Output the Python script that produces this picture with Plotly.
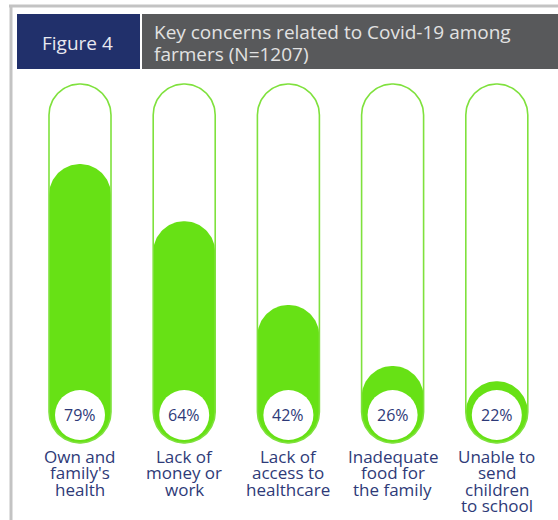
import numpy as np
import plotly.graph_objects as go

# --- data ---------------------------------------------------------------
categories = [
    "Own and<br>family's<br>health",
    "Lack of<br>money or<br>work",
    "Lack of<br>access to<br>healthcare",
    "Inadequate<br>food for<br>the family",
    "Unable to<br>send<br>children<br>to school",
]
percent = [79, 64, 42, 26, 22]
figure_label = "Figure 4"
title_lines = ["Key concerns related to Covid-19 among", "farmers (N=1207)"]

# --- styling --------------------------------------------------------------
W, H = 558, 520
FILL = "#67e115"
OUTLINE = "#7fe13d"
NAVY = "#21306b"
HEAD_GREY = "#58595b"
TEXT = "#2e3a78"
FONT = "Open Sans"

# axis geometry: one category per 104.2 px, one percent point per 3.81 px
PX_X = 104.2
PX_Y = 3.81
X0_PX = 80          # pixel position of first category
Y0_PX = 465         # pixel position of value 0
x_range = [-X0_PX / PX_X, (W - X0_PX) / PX_X]
y_range = [(Y0_PX - H) / PX_Y, Y0_PX / PX_Y]

R_PX = 31                       # tube radius in pixels
RX, RY = R_PX / PX_X, R_PX / PX_Y
BASE = 5.8                      # tube bottom (in axis units)
TOP = 100.0                     # tube top


def capsule(cx, y_lo, y_hi, n=60):
    """Closed outline of a vertical capsule between y_lo and y_hi."""
    t_top = np.linspace(0, np.pi, n)
    t_bot = np.linspace(np.pi, 2 * np.pi, n)
    xs = np.concatenate([cx + RX * np.cos(t_top), cx + RX * np.cos(t_bot)])
    ys = np.concatenate([(y_hi - RY) + RY * np.sin(t_top),
                         (y_lo + RY) + RY * np.sin(t_bot)])
    xs = np.append(xs, xs[0])
    ys = np.append(ys, ys[0])
    return xs, ys


fig = go.Figure()

for i, p in enumerate(percent):
    # filled level
    fx, fy = capsule(i, BASE, p)
    fig.add_trace(go.Scatter(x=fx, y=fy, mode="lines", fill="toself",
                             fillcolor=FILL, line=dict(width=0, color=FILL),
                             hoverinfo="skip", showlegend=False))
    # tube outline
    ox, oy = capsule(i, BASE, TOP)
    fig.add_trace(go.Scatter(x=ox, y=oy, mode="lines",
                             line=dict(width=1.6, color=OUTLINE),
                             hoverinfo="skip", showlegend=False))

shapes = []
annotations = []

# white value discs near the tube bottom
disc_r_x = 25 / PX_X
disc_r_y = 25 / PX_Y
disc_cy = (Y0_PX - 415) / PX_Y
for i, p in enumerate(percent):
    shapes.append(dict(type="circle", xref="x", yref="y",
                       x0=i - disc_r_x, x1=i + disc_r_x,
                       y0=disc_cy - disc_r_y, y1=disc_cy + disc_r_y,
                       fillcolor="white", line=dict(width=0), layer="above"))
    annotations.append(dict(x=i, y=disc_cy, xref="x", yref="y",
                            text=f"{p}%", showarrow=False,
                            xanchor="center", yanchor="middle",
                            font=dict(family=FONT, size=16, color=TEXT)))

# category labels, one annotation per line for tight leading
label_first_px = 456
label_step_px = 16.5
for i, cat in enumerate(categories):
    for j, line in enumerate(cat.split("<br>")):
        ypx = label_first_px + j * label_step_px
        annotations.append(dict(x=i, y=1 - ypx / H, xref="x", yref="paper",
                                text=line, showarrow=False,
                                xanchor="center", yanchor="middle",
                                font=dict(family=FONT, size=17, color=TEXT)))

# frame lines
shapes.append(dict(type="line", xref="paper", yref="paper",
                   x0=9 / W, x1=1, y0=1 - 6 / H, y1=1 - 6 / H,
                   line=dict(color="#c3c3c3", width=3)))
shapes.append(dict(type="line", xref="paper", yref="paper",
                   x0=11 / W, x1=11 / W, y0=0, y1=1 - 6 / H,
                   line=dict(color="#c3c3c3", width=3)))

# header boxes
shapes.append(dict(type="rect", xref="paper", yref="paper",
                   x0=17 / W, x1=140 / W, y0=1 - 69 / H, y1=1 - 14 / H,
                   fillcolor=NAVY, line=dict(width=0)))
shapes.append(dict(type="rect", xref="paper", yref="paper",
                   x0=142 / W, x1=1, y0=1 - 69 / H, y1=1 - 14 / H,
                   fillcolor=HEAD_GREY, line=dict(width=0)))

annotations.append(dict(x=78 / W, y=1 - 43 / H, xref="paper", yref="paper",
                        text=figure_label, showarrow=False,
                        xanchor="center", yanchor="middle",
                        font=dict(family=FONT, size=19, color="#e8e8ef")))
for j, line in enumerate(title_lines):
    annotations.append(dict(x=152 / W, y=1 - (32 + j * 22) / H,
                            xref="paper", yref="paper",
                            xanchor="left", yanchor="middle",
                            text=line, showarrow=False,
                            font=dict(family=FONT, size=19, color="#e2e2e2")))

fig.update_layout(
    width=W, height=H, autosize=False,
    margin=dict(l=0, r=0, t=0, b=0),
    paper_bgcolor="white", plot_bgcolor="white",
    xaxis=dict(range=x_range, visible=False, fixedrange=True),
    yaxis=dict(range=y_range, visible=False, fixedrange=True),
    shapes=shapes, annotations=annotations,
    showlegend=False,
)

fig.write_html("out.html")
